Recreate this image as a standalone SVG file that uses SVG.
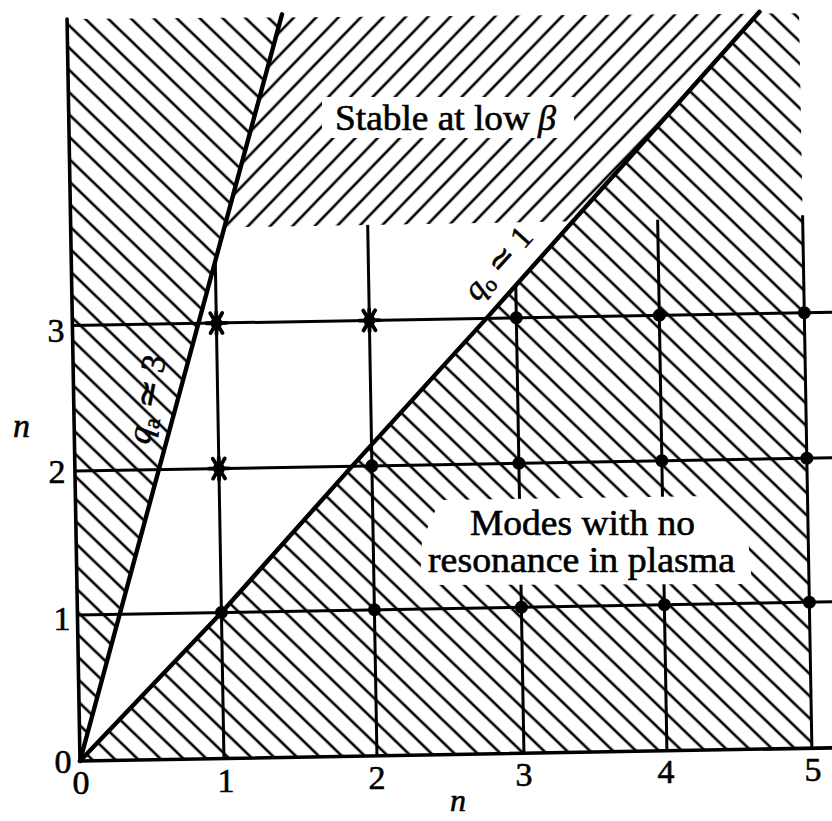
<svg xmlns="http://www.w3.org/2000/svg" width="832" height="821" viewBox="0 0 832 821">
<style>
 .ax{stroke:#000;stroke-width:3.6;fill:none;stroke-linecap:round}
 .grid{stroke:#000;stroke-width:3;fill:none}
 .q{stroke:#000;stroke-width:4.4;fill:none;stroke-linejoin:round;stroke-linecap:round}
 .t{font-family:"Liberation Serif","Times New Roman",serif;fill:#000;stroke:#000;stroke-width:0.6}
 .num{font-size:34px;text-anchor:middle}
 .lbl{font-size:36px}
 .it{font-style:italic}
 .ko{fill:#fff;stroke:none}
</style>
<defs>
 <pattern id="hb" width="16" height="16" patternUnits="userSpaceOnUse" patternTransform="rotate(-45)">
  <line x1="8" y1="-1" x2="8" y2="17" stroke="#000" stroke-width="2.6"/>
 </pattern>
 <pattern id="hf" width="16" height="16" patternUnits="userSpaceOnUse" patternTransform="rotate(45)">
  <line x1="8" y1="-1" x2="8" y2="17" stroke="#000" stroke-width="2.6"/>
 </pattern>
 <g id="star">
  <circle r="6" fill="#000"/>
  <path d="M-6,-10 L6,10 M6,-10 L-6,10 M-10,0 L10,0 M0,-11 L0,11" stroke="#000" stroke-width="3.8" stroke-linecap="round"/>
 </g>
 <circle id="dot" r="6.5" fill="#000"/>
</defs>
<rect width="832" height="821" fill="#fff"/>
<g id="plot" transform="rotate(-1 80 761)">
 <g id="regions">
  <polygon id="region-left" points="80,761 80,19 294.1,21" fill="url(#hb)"/>
  <polygon id="region-stable" points="233.7,230 582.2,230 770.8,25.6 294.1,21" fill="url(#hf)"/>
  <polygon id="region-no-resonance" points="80,761 224.6,614.5 356.8,471.4 492.7,327 770.8,25.6 812,26 812,761" fill="url(#hb)"/>
 </g>
 <g id="grid">
  <line class="grid" x1="80" y1="615" x2="850" y2="615"/>
  <line class="grid" x1="80" y1="471" x2="850" y2="471"/>
  <line class="grid" x1="80" y1="325.5" x2="850" y2="325.5"/>
  <line class="grid" x1="224" y1="761" x2="224" y2="263"/>
  <line class="grid" x1="377" y1="761" x2="377" y2="230"/>
  <line class="grid" x1="524" y1="761" x2="524" y2="293"/>
  <line class="grid" x1="667" y1="761" x2="667" y2="230"/>
  <line class="grid" x1="812" y1="761" x2="812" y2="228"/>
 </g>
 <g id="connectors">
  <line id="axis-left" class="ax" x1="80" y1="761" x2="80" y2="19"/>
  <line id="axis-bottom" class="ax" x1="80" y1="761" x2="850" y2="761"/>
  <line id="line-qa" class="q" x1="80" y1="761" x2="295" y2="18"/>
  <polyline id="line-q0" class="q" points="80,761 224.6,614.5 356.8,471.4 492.7,327 772.5,23.8"/>
 </g>
 <g id="markers">
  <use href="#star" x="224" y="325.5"/>
  <use href="#star" x="377" y="325.5"/>
  <use href="#star" x="224" y="471"/>
  <use href="#dot" x="224" y="615"/>
  <use href="#dot" x="377" y="615"/>
  <use href="#dot" x="377" y="471"/>
  <use href="#dot" x="524" y="615"/>
  <use href="#dot" x="524" y="471"/>
  <use href="#dot" x="524" y="325.5"/>
  <use href="#dot" x="667" y="615"/>
  <use href="#dot" x="667" y="471"/>
  <use href="#dot" x="667" y="325.5"/>
  <use href="#dot" x="812" y="615"/>
  <use href="#dot" x="812" y="471"/>
  <use href="#dot" x="812" y="325.5"/>
 </g>
</g>
<g id="knockouts">
 <rect class="ko" x="322" y="97" width="252" height="41"/>
 <polygon class="ko" points="422,540 440,500 712,496 748,538 752,584 420,585"/>
</g>
<g id="labels" class="t">
 <g id="label-stable">
  <text class="lbl" x="335" y="130" textLength="195" lengthAdjust="spacingAndGlyphs">Stable at low</text>
  <text class="lbl it" x="538" y="130">β</text>
 </g>
 <g id="label-modes">
  <text class="lbl" x="470" y="535" textLength="225" lengthAdjust="spacingAndGlyphs">Modes with no</text>
  <text class="lbl" x="428" y="572" textLength="307" lengthAdjust="spacingAndGlyphs">resonance in plasma</text>
 </g>
 <text id="label-qa" font-size="34" transform="translate(149,445) rotate(-79)"><tspan class="it">q</tspan><tspan font-size="23" dy="6">a</tspan><tspan dy="-6"> ≃ 3</tspan></text>
 <text id="label-q0" font-size="32" transform="translate(477,302) rotate(-48)"><tspan class="it">q</tspan><tspan font-size="22" dy="5">o</tspan><tspan dy="-5"> ≃ 1</tspan></text>
 <g id="ticks-y" class="num">
  <text x="56" y="342">3</text>
  <text x="57" y="483">2</text>
  <text x="62" y="630">1</text>
  <text x="63" y="773">0</text>
 </g>
 <g id="ticks-x" class="num">
  <text x="81" y="794">0</text>
  <text x="226" y="792">1</text>
  <text x="377" y="789">2</text>
  <text x="524" y="786">3</text>
  <text x="666" y="783">4</text>
  <text x="813" y="781">5</text>
 </g>
 <text id="axis-label-y" class="it" font-size="34" x="13" y="437">n</text>
 <text id="axis-label-x" class="it" font-size="32" x="450" y="811">n</text>
</g>
</svg>
